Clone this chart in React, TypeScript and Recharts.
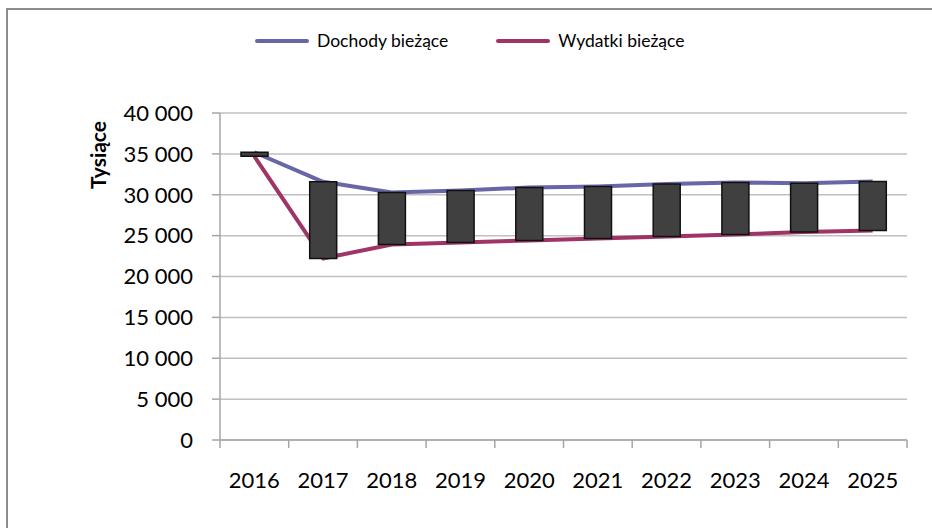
import { Bar, CartesianGrid, ComposedChart, Legend, Line, XAxis, YAxis } from "recharts";

const YEARS = ["2016", "2017", "2018", "2019", "2020", "2021", "2022", "2023", "2024", "2025"];
const DOCHODY = [35200, 31580, 30280, 30520, 30890, 31010, 31300, 31500, 31420, 31620];
const WYDATKI = [34700, 22210, 23920, 24170, 24410, 24660, 24900, 25150, 25430, 25630];
const Y_TICKS = [0, 5000, 10000, 15000, 20000, 25000, 30000, 35000, 40000];

const BLUE = "#6767A7";
const RED = "#A03466";
const FONT = "Lato, 'Open Sans', sans-serif";

const data = YEARS.map((year, i) => ({
  year,
  dochody: DOCHODY[i],
  wydatki: WYDATKI[i],
  range: [Math.min(DOCHODY[i], WYDATKI[i]), Math.max(DOCHODY[i], WYDATKI[i])],
}));

const fmt = (v: number) => String(v).replace(/\B(?=(\d{3})+(?!\d))/g, " ");

function YearTick(props: any) {
  const { x, y, payload, index, visibleTicksCount } = props;
  const half = payload?.offset ?? 34.35;
  const last = index === visibleTicksCount - 1;
  return (
    <g>
      <line x1={x - half} x2={x - half} y1={y} y2={y + 8} stroke="#A6A6A6" strokeWidth={1.5} />
      {last && <line x1={x + half} x2={x + half} y1={y} y2={y + 8} stroke="#A6A6A6" strokeWidth={1.5} />}
      <text x={x} y={y + 48} textAnchor="middle" fontFamily={FONT} fontSize={22} fill="#000">
        {payload.value}
      </text>
    </g>
  );
}

function LegendBox() {
  const items = [
    { name: "Dochody bieżące", color: BLUE },
    { name: "Wydatki bieżące", color: RED },
  ];
  return (
    <div style={{ display: "flex", alignItems: "center", paddingLeft: 255, fontFamily: FONT, fontSize: 17.5 }}>
      {items.map((it) => (
        <div key={it.name} style={{ display: "flex", alignItems: "center", marginRight: 48 }}>
          <span style={{ width: 54, height: 4, borderRadius: 2, background: it.color, marginRight: 8 }} />
          <span>{it.name}</span>
        </div>
      ))}
    </div>
  );
}

export default function App() {
  return (
    <div style={{ position: "absolute", left: 0, top: 0, width: 932, height: 528, background: "#fff" }}>
      <div
        style={{
          position: "absolute",
          left: 6,
          top: 8,
          right: 0,
          bottom: 0,
          borderTop: "2px solid #8C8C8C",
          borderLeft: "2px solid #8C8C8C",
        }}
      />
      <div style={{ position: "absolute", left: 0, top: 30, width: 932 }}>
        <LegendBox />
      </div>
      <ComposedChart width={932} height={528} data={data} margin={{ top: 113, right: 25, bottom: 38, left: 0 }}>
        <CartesianGrid vertical={false} stroke="#C0C0C0" strokeWidth={1.5} />
        <XAxis dataKey="year" height={50} tickLine={false} tickSize={0} tickMargin={0} axisLine={{ stroke: "#A6A6A6", strokeWidth: 1.5 }} tick={<YearTick />} interval={0} />
        <YAxis
          width={220}
          domain={[0, 40000]}
          ticks={Y_TICKS}
          tickFormatter={fmt}
          tickSize={8}
          tickMargin={19}
          axisLine={{ stroke: "#A6A6A6", strokeWidth: 1.5 }}
          tickLine={{ stroke: "#A6A6A6", strokeWidth: 1.5 }}
          tick={{ fontFamily: FONT, fontSize: 22, fill: "#000" }}
          label={() => (
            <text x={106} y={155} transform="rotate(-90 106 155)" textAnchor="middle" fontFamily={FONT} fontSize={21} fontWeight="bold" fill="#000">
              Tysiące
            </text>
          )}
        />
        <Line dataKey="dochody" name="Dochody bieżące" stroke={BLUE} strokeWidth={4} dot={false} strokeLinejoin="round" isAnimationActive={false} />
        <Line dataKey="wydatki" name="Wydatki bieżące" stroke={RED} strokeWidth={4} dot={false} strokeLinejoin="round" isAnimationActive={false} />
        <Bar dataKey="range" barSize={27} fill="#404040" stroke="#111" strokeWidth={1.5} isAnimationActive={false} zIndex={500} />
      </ComposedChart>
    </div>
  );
}
